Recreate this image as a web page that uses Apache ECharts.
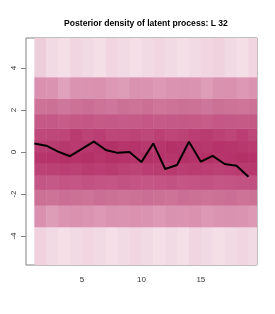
<!DOCTYPE html>
<html><head><meta charset="utf-8">
<script src="https://cdn.jsdelivr.net/npm/echarts@6/dist/echarts.min.js"></script>
<style>html,body{margin:0;padding:0;background:#fff}#c{width:275px;height:314px}</style>
</head><body><div id="c"></div>
<script>
// time points (x) and posterior mean of latent process
const timePoints = [1,2,3,4,5,6,7,8,9,10,11,12,13,14,15,16,17,18,19];
const latentMean = [0.41,0.30,0.02,-0.20,0.15,0.50,0.10,-0.04,0.00,-0.48,0.41,-0.81,-0.62,0.49,-0.46,-0.18,-0.57,-0.65,-1.18];
// y bin edges for density cells
const yEdges = [-8,-3.56,-2.52,-1.78,-1.10,-0.54,0,0.54,1.13,1.81,2.56,3.58,8];
// density level per cell, rows from bottom (r0) to top (r11)
const r0  = [0.3,0.2,0.15,0.2,0.25,0.2,0.15,0.2,0.25,0.2,0.15,0.2,0.15,0.25,0.2,0.15,0.2,0.25,0.2];
const r1  = [1.1,0.9,1.0,1.1,1.0,0.95,1.05,1.0,1.1,1.0,0.95,1.05,1.0,1.1,0.95,1.0,1.05,1.0,0.95];
const r2  = [2.1,2.0,2.2,2.1,2.0,2.2,2.1,2.0,2.1,2.2,2.1,2.0,2.2,2.1,2.0,2.1,2.2,2.0,2.1];
const r3  = [3.2,3.1,3.3,3.2,3.4,3.3,3.2,3.4,3.3,3.2,3.3,3.4,3.2,3.3,3.4,3.2,3.3,3.4,3.5];
const r4  = [4.1,4.2,4.3,4.2,4.4,4.3,4.4,4.2,4.1,4.3,4.4,4.5,4.3,4.4,4.3,4.2,4.3,4.5,4.6];
const r5  = [4.7,4.8,4.9,4.8,4.9,4.7,4.9,4.8,4.7,4.9,4.8,4.7,4.9,4.8,4.9,4.7,4.8,4.9,4.8];
const r6  = [4.3,4.4,4.6,4.5,4.6,4.8,4.9,4.7,4.8,4.6,4.7,4.9,4.8,4.7,4.6,4.8,4.7,4.6,4.5];
const r7  = [3.8,3.9,4.0,4.4,4.1,4.3,3.9,4.0,4.1,3.9,4.2,4.0,4.1,4.3,4.4,4.2,4.0,4.3,3.9];
const r8  = [3.0,3.1,2.9,3.05,3.2,3.0,3.1,2.95,3.0,3.15,3.0,3.1,3.05,3.0,2.9,3.15,3.1,3.0,3.05];
const r9  = [2.0,2.1,1.9,2.05,2.2,2.0,1.9,2.1,2.0,2.15,1.95,2.0,2.1,2.05,1.9,2.1,2.0,1.95,2.05];
const r10 = [1.1,1.0,0.85,1.0,1.05,1.1,0.95,0.9,1.05,1.0,0.95,1.0,1.05,1.0,0.9,1.05,1.1,0.95,1.0];
const r11 = [0.35,0.2,0.15,0.25,0.2,0.15,0.25,0.2,0.15,0.2,0.25,0.2,0.15,0.2,0.25,0.3,0.2,0.15,0.25];
const xTicks = [5,10,15];
const yTicks = [-4,-2,0,2,4];

const rows = [r0,r1,r2,r3,r4,r5,r6,r7,r8,r9,r10,r11];
const cells = [];
rows.forEach((row, ri) => row.forEach((v, ci) => cells.push([timePoints[ci], ri, v])));

const chart = echarts.init(document.getElementById('c'));
const font = 'Liberation Sans, Arial, sans-serif';
chart.setOption({
  animation: false,
  title: {text: 'Posterior density of latent process: L 32', left: 141, textAlign: 'center', top: 14,
    textStyle: {fontFamily: font, fontSize: 8.6, fontWeight: 'bold', color: '#000'}},
  grid: {left: 26, right: 18, top: 38, bottom: 49, show: true, borderColor: '#808080', borderWidth: 1, backgroundColor: 'transparent'},
  visualMap: {show: false, seriesIndex: 0, dimension: 2, min: 0, max: 5,
    inRange: {color: ['#f8ecf1','#da94b1','#cd7398','#c55a87','#bd4578','#b32f66']}},
  xAxis: {type: 'value', min: 0.3, max: 19.72, splitLine: {show: false},
    axisLine: {show: false},
    axisTick: {show: true, length: 5, lineStyle: {color: '#808080'}, customValues: xTicks},
    axisLabel: {fontFamily: font, fontSize: 8, color: '#333', margin: 11, customValues: xTicks}},
  yAxis: {type: 'value', min: -5.38, max: 5.43, splitLine: {show: false},
    axisLine: {show: false},
    axisTick: {show: true, length: 5, lineStyle: {color: '#808080'}, customValues: yTicks},
    axisLabel: {fontFamily: font, fontSize: 8, color: '#333', rotate: 90, margin: 8, customValues: yTicks}},
  series: [
    {type: 'custom', data: cells, clip: true,
      renderItem: (params, api) => {
        const x = api.value(0), ri = api.value(1);
        const p0 = api.coord([x, yEdges[ri + 1]]);
        const p1 = api.coord([x + 1, yEdges[ri]]);
        const rect = echarts.graphic.clipRectByRect(
          {x: p0[0], y: p0[1], width: p1[0] - p0[0] + 0.5, height: p1[1] - p0[1] + 0.5},
          {x: params.coordSys.x, y: params.coordSys.y, width: params.coordSys.width, height: params.coordSys.height});
        return rect && {type: 'rect', shape: rect, style: {fill: api.visual('color')}};
      }},
    {type: 'line', data: timePoints.map((t, i) => [t, latentMean[i]]), symbol: 'none',
      lineStyle: {color: '#000', width: 2}, z: 5}
  ]
});
</script></body></html>
